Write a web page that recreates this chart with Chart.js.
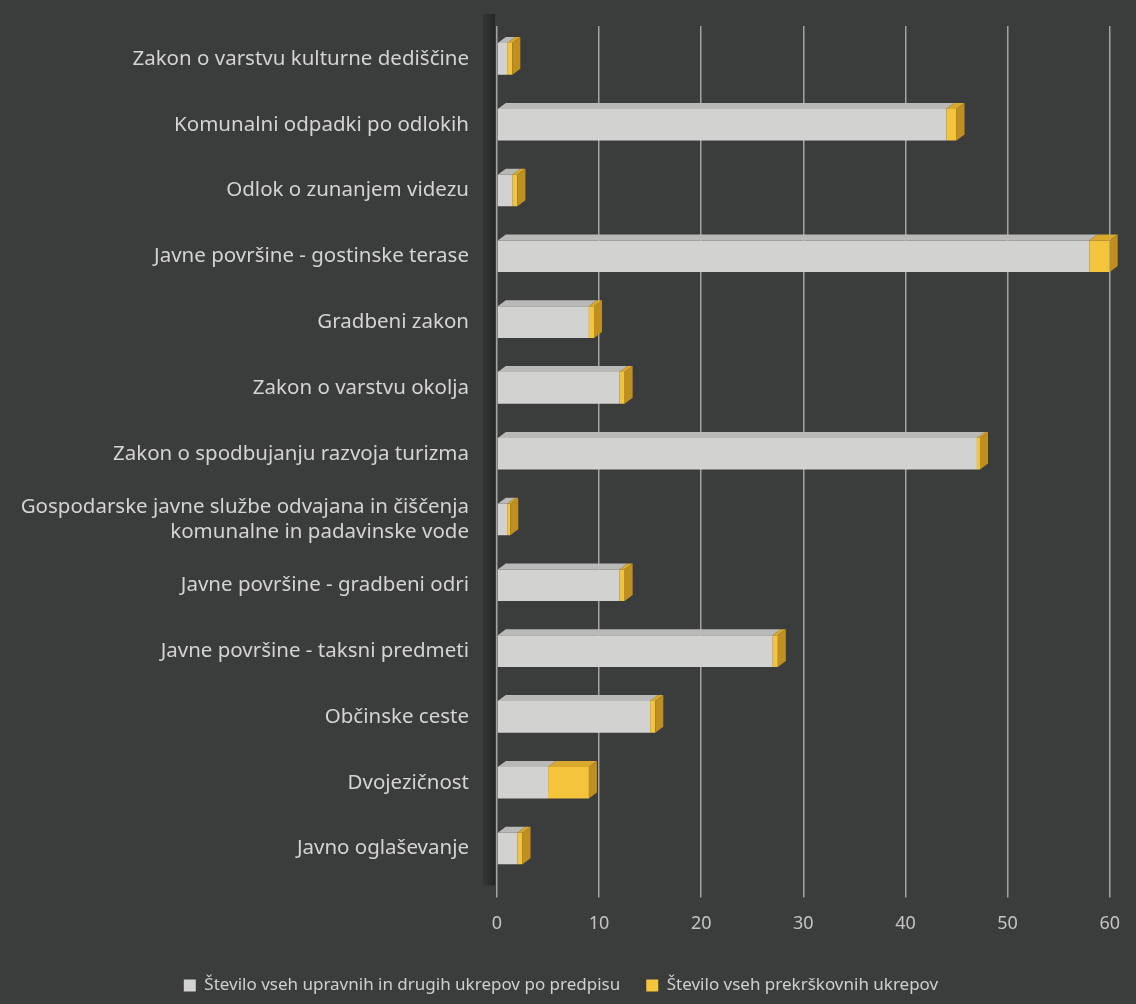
<!DOCTYPE html>
<html>
<head>
<meta charset="utf-8">
<script src="https://cdn.jsdelivr.net/npm/chart.js@4/dist/chart.umd.min.js"></script>
<style>
  html, body { margin: 0; padding: 0; background: #3b3d3d; }
  #wrap { width: 1136px; height: 1004px; }
</style>
</head>
<body>
<div id="wrap"><canvas id="chart" width="1136" height="1004"></canvas></div>
<script>
const categories = [
  "Zakon o varstvu kulturne dediščine",
  "Komunalni odpadki po odlokih",
  "Odlok o zunanjem videzu",
  "Javne površine - gostinske terase",
  "Gradbeni zakon",
  "Zakon o varstvu okolja",
  "Zakon o spodbujanju razvoja turizma",
  ["Gospodarske javne službe odvajana in čiščenja", "komunalne in padavinske vode"],
  "Javne površine - gradbeni odri",
  "Javne površine - taksni predmeti",
  "Občinske ceste",
  "Dvojezičnost",
  "Javno oglaševanje"
];

const upravniUkrepi = [1, 44, 1.5, 58, 9, 12, 47, 1, 12, 27, 15, 5, 2];
const prekrskovniUkrepi = [0.5, 1, 0.5, 2, 0.5, 0.5, 0.3, 0.3, 0.5, 0.5, 0.5, 4, 0.5];

const xTicks = [0, 10, 20, 30, 40, 50, 60];

const seriesNames = [
  "Število vseh upravnih in drugih ukrepov po predpisu",
  "Število vseh prekrškovnih ukrepov"
];

// colours for front / top / side face of each series
const faces = [
  { front: "#d2d2d0", top: "#b9b9b7", side: "#a4a4a2" },
  { front: "#f4c43c", top: "#d9a92e", side: "#c08f22" }
];

const DX = 8, DY = -6;

// fake 3D look: top and right faces on each bar, dark wall on the left
const depthPlugin = {
  id: "depth",
  beforeDatasetsDraw(chart) {
    const { ctx, chartArea } = chart;
    ctx.save();
    const g = ctx.createLinearGradient(chartArea.left - 14, 0, chartArea.left, 0);
    g.addColorStop(0, "rgba(40,41,41,0.4)");
    g.addColorStop(1, "#222323");
    ctx.fillStyle = g;
    ctx.fillRect(chartArea.left - 14, chartArea.top - 12, 12, chartArea.bottom - chartArea.top + 16);
    ctx.restore();
  },
  afterDatasetsDraw(chart) {
    const { ctx } = chart;
    ctx.save();
    const n = chart.data.datasets.length;
    chart.data.datasets.forEach((ds, di) => {
      const meta = chart.getDatasetMeta(di);
      const f = faces[di];
      meta.data.forEach((bar, i) => {
        const p = bar.getProps(["x", "y", "base", "height"], true);
        if (p.x - p.base <= 0) return;
        const top = p.y - p.height / 2;
        const bottom = p.y + p.height / 2;
        ctx.fillStyle = f.top;
        ctx.beginPath();
        ctx.moveTo(p.base, top);
        ctx.lineTo(p.x, top);
        ctx.lineTo(p.x + DX, top + DY);
        ctx.lineTo(p.base + DX, top + DY);
        ctx.closePath();
        ctx.fill();
        // only the outermost segment shows its right face
        let last = true;
        for (let k = di + 1; k < n; k++) {
          if (chart.data.datasets[k].data[i] > 0) last = false;
        }
        if (!last) return;
        ctx.fillStyle = f.side;
        ctx.beginPath();
        ctx.moveTo(p.x, top);
        ctx.lineTo(p.x + DX, top + DY);
        ctx.lineTo(p.x + DX, bottom + DY);
        ctx.lineTo(p.x, bottom);
        ctx.closePath();
        ctx.fill();
      });
    });
    ctx.restore();
  }
};

const ctx = document.getElementById("chart");

new Chart(ctx, {
  type: "bar",
  data: {
    labels: categories,
    datasets: [
      {
        label: seriesNames[0],
        data: upravniUkrepi,
        backgroundColor: faces[0].front,
        barPercentage: 0.6,
        categoryPercentage: 0.8,
      },
      {
        label: seriesNames[1],
        data: prekrskovniUkrepi,
        backgroundColor: faces[1].front,
        barPercentage: 0.6,
        categoryPercentage: 0.8,
      }
    ]
  },
  options: {
    indexAxis: "y",
    responsive: false,
    animation: false,
    layout: { padding: { top: 26, right: 24, bottom: 0, left: 10 } },
    plugins: {
      legend: {
        position: "bottom",
        labels: {
          color: "#cfcfcf",
          font: { family: "Noto Sans", size: 17 },
          boxWidth: 12,
          boxHeight: 12,
          padding: 26,
        }
      },
      tooltip: { enabled: false }
    },
    scales: {
      x: {
        stacked: true,
        min: 0,
        max: 60,
        afterBuildTicks(axis) {
          axis.ticks = xTicks.map(v => ({ value: v }));
        },
        grid: { color: "#a3a3a1", lineWidth: 1.5, drawTicks: true, tickLength: 16 },
        border: { display: false },
        ticks: { color: "#c4c4c2", font: { family: "Noto Sans", size: 18 }, padding: 16 }
      },
      y: {
        stacked: true,
        grid: { display: false },
        border: { display: false },
        ticks: { color: "#d4d4d2", font: { family: "Noto Sans", size: 20.5 }, padding: 20 },
        afterFit(scale) {
          scale.width = 487;
          scale.paddingTop = 0;
          scale.paddingBottom = 0;
        }
      }
    }
  },
  plugins: [depthPlugin]
});
</script>
</body>
</html>
